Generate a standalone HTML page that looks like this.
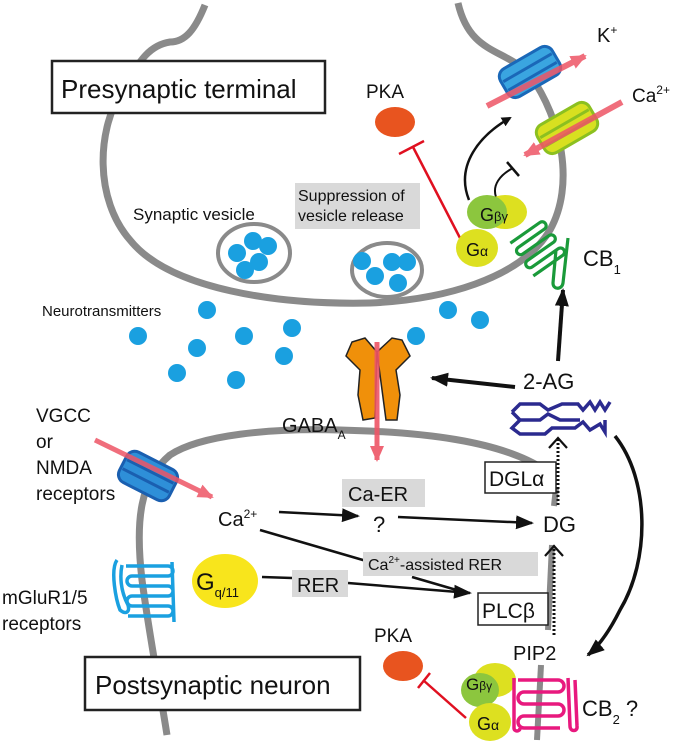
<!DOCTYPE html>
<html><head><meta charset="utf-8"><style>
html,body{margin:0;padding:0;background:#fff;}
svg{display:block;font-family:"Liberation Sans",Arial,sans-serif;}
</style></head><body>
<svg width="675" height="744" viewBox="0 0 675 744" xmlns="http://www.w3.org/2000/svg">
<defs>
<marker id="ah" markerWidth="10" markerHeight="10" refX="8" refY="5" orient="auto" markerUnits="userSpaceOnUse"><path d="M0,0 L10,5 L0,10 z" fill="#111"/></marker>
<marker id="ahb" markerWidth="18" markerHeight="14" refX="16" refY="7" orient="auto" markerUnits="userSpaceOnUse"><path d="M0,0 L18,7 L0,14 z" fill="#111"/></marker>
<marker id="ahr" markerWidth="16" markerHeight="14" refX="14" refY="7" orient="auto" markerUnits="userSpaceOnUse"><path d="M0,0 L16,7 L0,14 z" fill="#ee5566"/></marker>
<marker id="ao" markerWidth="14" markerHeight="20" refX="11" refY="10" orient="auto" markerUnits="userSpaceOnUse"><path d="M1,1 L11,10 L1,19" fill="none" stroke="#111" stroke-width="2.2"/></marker>
</defs>

<!-- membranes -->
<path d="M205,5 C195,30 185,42 170,42 C150,45 140,60 125,85 C95,130 95,200 130,240 C170,290 280,305 370,303 C440,300 520,280 550,230 C575,185 562,120 530,75 C505,48 470,55 458,3" fill="none" stroke="#8a8a8a" stroke-width="7"/>
<path d="M167,735 C160,690 150,640 142,580 C135,520 140,480 170,455 C200,435 270,428 340,430 C420,432 500,440 545,470" fill="none" stroke="#8a8a8a" stroke-width="7"/>
<line x1="552" y1="545" x2="548" y2="630" stroke="#8a8a8a" stroke-width="6"/>
<line x1="541" y1="665" x2="537" y2="740" stroke="#8a8a8a" stroke-width="6"/>
<line x1="556" y1="488" x2="554" y2="506" stroke="#8a8a8a" stroke-width="6"/>

<!-- vesicles -->
<ellipse cx="254" cy="253" rx="36" ry="29" fill="none" stroke="#8a8a8a" stroke-width="4"/>
<ellipse cx="387" cy="270" rx="35" ry="27" fill="none" stroke="#8a8a8a" stroke-width="4"/>
<g fill="#1aa0e0">
<circle cx="253" cy="241" r="9"/><circle cx="268" cy="246" r="9"/><circle cx="237" cy="253" r="9"/><circle cx="259" cy="262" r="9"/><circle cx="245" cy="270" r="9"/>
<circle cx="362" cy="261" r="9"/><circle cx="392" cy="262" r="9"/><circle cx="407" cy="262" r="9"/><circle cx="375" cy="276" r="9"/><circle cx="398" cy="283" r="9"/>
<circle cx="207" cy="310" r="9"/><circle cx="138" cy="336" r="9"/><circle cx="197" cy="348" r="9"/><circle cx="244" cy="336" r="9"/><circle cx="292" cy="328" r="9"/><circle cx="177" cy="373" r="9"/><circle cx="236" cy="380" r="9"/><circle cx="284" cy="356" r="9"/><circle cx="448" cy="310" r="9"/><circle cx="480" cy="320" r="9"/><circle cx="416" cy="336" r="9"/>
</g>

<!-- labels top -->
<rect x="52" y="61" width="273" height="52" fill="#fff" stroke="#222" stroke-width="2.5"/>
<text x="61" y="98" font-size="26" fill="#111">Presynaptic terminal</text>
<text x="366" y="98" font-size="19" fill="#111">PKA</text>
<ellipse cx="395" cy="122" rx="20" ry="15" fill="#e8541f"/>
<line x1="460" y1="238" x2="413" y2="147" stroke="#e01020" stroke-width="2.5"/>
<line x1="399" y1="154" x2="424" y2="141" stroke="#e01020" stroke-width="2.5"/>
<rect x="295" y="183" width="125" height="46" fill="#d9d9d9"/>
<text x="298" y="201" font-size="16" fill="#111">Suppression of</text>
<text x="298" y="221" font-size="16" fill="#111">vesicle release</text>
<text x="133" y="220" font-size="17" fill="#111">Synaptic vesicle</text>
<text x="42" y="316" font-size="15" fill="#111">Neurotransmitters</text>

<!-- K+ channel -->
<g transform="translate(530,72) rotate(-30)">
<rect x="-30" y="-16" width="60" height="32" rx="9" fill="#3aa5e0" stroke="#1a68b8" stroke-width="3"/>
<line x1="-28" y1="-5" x2="28" y2="-5" stroke="#1a68b8" stroke-width="3"/>
<line x1="-28" y1="5" x2="28" y2="5" stroke="#1a68b8" stroke-width="3"/>
</g>
<line x1="487" y1="106" x2="585" y2="56" stroke="#ee5566" stroke-width="6" opacity="0.85" marker-end="url(#ahr)"/>
<!-- Ca channel -->
<g transform="translate(567,128) rotate(-30)">
<rect x="-30" y="-16" width="60" height="32" rx="9" fill="#d8e020" stroke="#8cc020" stroke-width="3"/>
<line x1="-28" y1="-5" x2="28" y2="-5" stroke="#8cc020" stroke-width="3"/>
<line x1="-28" y1="5" x2="28" y2="5" stroke="#8cc020" stroke-width="3"/>
</g>
<line x1="622" y1="102" x2="525" y2="155" stroke="#ee5566" stroke-width="6" opacity="0.85" marker-end="url(#ahr)"/>
<text x="597" y="42" font-size="20" fill="#111">K<tspan font-size="12" dy="-8">+</tspan></text>
<text x="632" y="102" font-size="19" fill="#111">Ca<tspan font-size="12" dy="-8">2+</tspan></text>

<!-- G proteins top -->
<path d="M469,200 C455,165 480,135 510,118" fill="none" stroke="#111" stroke-width="2.5" marker-end="url(#ah)"/>
<path d="M496,197 C492,185 500,175 513,168" fill="none" stroke="#111" stroke-width="2"/>
<line x1="507" y1="162" x2="519" y2="176" stroke="#111" stroke-width="2.5"/>
<ellipse cx="505" cy="212" rx="22" ry="17" fill="#dde020"/>
<ellipse cx="487" cy="212" rx="20" ry="17" fill="#8cc63e"/>
<text x="480" y="221" font-size="18" fill="#111">G<tspan font-size="13">βγ</tspan></text>
<ellipse cx="477" cy="248" rx="21" ry="19" fill="#dde020"/>
<text x="466" y="256" font-size="18" fill="#111">G<tspan font-size="14">α</tspan></text>
<!-- CB1 -->
<g transform="translate(512,242) rotate(-35)" fill="none" stroke="#1a9a3a" stroke-width="3.2">
<path d="M-2,0 h36 a4,4 0 0 1 0,8 h-32 a4,4 0 0 0 0,8 h32 a4,4 0 0 1 0,8 h-32 a4,4 0 0 0 0,8 h32 a4,4 0 0 1 0,8 h-36"/>
</g>
<path d="M556,250 L553,283 C553,290 562,290 563,283 L568,238" fill="none" stroke="#1a9a3a" stroke-width="3.2"/>
<text x="583" y="266" font-size="22" fill="#111">CB<tspan font-size="13" dy="8">1</tspan></text>

<!-- GABA_A -->
<path d="M352,342 L346,356 L360,370 L358,395 L363,420 L375,418 L377,352 L386,420 L397,420 L400,395 L396,370 L410,356 L402,340 L392,338 L377,352 L365,338 Z" fill="#f0900a" stroke="#222" stroke-width="1.5"/>
<line x1="377" y1="342" x2="377" y2="460" stroke="#ee5566" stroke-width="5" marker-end="url(#ahr)" opacity="0.9"/>
<text x="282" y="432" font-size="20" fill="#111">GABA<tspan font-size="12" dy="7">A</tspan></text>

<!-- 2-AG -->
<text x="523" y="389" font-size="22" fill="#111">2-AG</text>
<line x1="515" y1="387" x2="432" y2="378" stroke="#111" stroke-width="4" marker-end="url(#ahb)"/>
<line x1="558" y1="361" x2="563" y2="290" stroke="#111" stroke-width="4" marker-end="url(#ahb)"/>
<path d="M512,412 L520,404 L540,404 L548,410 L562,404 L578,404 L583,410 L590,402 L595,410 L600,402 L605,410 L610,402 M512,412 L520,420 L540,420 L548,414 L560,420 L580,420 M520,420 L512,428 L520,434 L545,434 L552,428 L575,428 L583,422 L590,430 L600,424 L605,432 L605,420" fill="none" stroke="#2b2a8f" stroke-width="3.5"/>
<path d="M615,436 C650,480 650,560 620,610 C610,630 600,645 588,655" fill="none" stroke="#111" stroke-width="3.5" marker-end="url(#ahb)"/>

<!-- dotted arrows -->
<line x1="558" y1="505" x2="558" y2="438" stroke="#111" stroke-width="3" stroke-dasharray="2,2" marker-end="url(#ao)"/>
<line x1="554" y1="635" x2="554" y2="546" stroke="#111" stroke-width="3" stroke-dasharray="2,2" marker-end="url(#ao)"/>

<!-- postsynaptic left -->
<g transform="translate(148,476) rotate(27)">
<rect x="-28" y="-17" width="56" height="34" rx="9" fill="#2e8fd8" stroke="#1a5fb0" stroke-width="3"/>
<line x1="-26" y1="-5" x2="26" y2="-5" stroke="#1a5fb0" stroke-width="3"/>
<line x1="-26" y1="5" x2="26" y2="5" stroke="#1a5fb0" stroke-width="3"/>
</g>
<line x1="95" y1="440" x2="212" y2="497" stroke="#ee5566" stroke-width="5" opacity="0.85" marker-end="url(#ahr)"/>
<g font-size="19" fill="#111">
<text x="36" y="422">VGCC</text><text x="36" y="448">or</text><text x="36" y="474">NMDA</text><text x="36" y="500">receptors</text>
<text x="2" y="604">mGluR1/5</text><text x="2" y="630">receptors</text>
</g>
<path d="M117,560 C110,570 116,600 120,610 C126,615 130,612 128,605 C120,590 120,575 122,565" fill="none" stroke="#1aa0e0" stroke-width="3.5"/>
<path d="M126,566 h42 a5,5 0 0 1 0,10 h-36 a5,5 0 0 0 0,10 h36 a5,5 0 0 1 0,10 h-36 a5,5 0 0 0 0,10 h36 a5,5 0 0 1 0,10 h-40 M172,562 L174,622" fill="none" stroke="#1aa0e0" stroke-width="3.5"/>
<ellipse cx="225" cy="581" rx="33" ry="27" fill="#f8e51c"/>
<text x="196" y="590" font-size="24" fill="#111">G<tspan font-size="13" dy="7">q/11</tspan></text>

<!-- pathways -->
<text x="218" y="526" font-size="20" fill="#111">Ca<tspan font-size="12" dy="-8">2+</tspan></text>
<line x1="279" y1="512" x2="358" y2="516" stroke="#111" stroke-width="2.5" marker-end="url(#ahb)"/>
<rect x="342" y="479" width="83" height="28" fill="#d9d9d9"/>
<text x="348" y="501" font-size="20" fill="#111">Ca-ER</text>
<text x="373" y="532" font-size="22" fill="#111">?</text>
<line x1="398" y1="517" x2="532" y2="523" stroke="#111" stroke-width="2.5" marker-end="url(#ahb)"/>
<text x="543" y="532" font-size="22" fill="#111">DG</text>
<rect x="485" y="462" width="71" height="31" fill="#fff" stroke="#222" stroke-width="1.5"/>
<text x="489" y="486" font-size="21" fill="#111">DGLα</text>
<path d="M260,530 L380,565" stroke="#111" stroke-width="2.5"/>
<path d="M262,577 L292,578 M348,583 L470,593" stroke="#111" stroke-width="2.5" marker-end="url(#ahb)"/>
<line x1="412" y1="577" x2="460" y2="591" stroke="#111" stroke-width="2.5"/>
<rect x="363" y="552" width="175" height="24" fill="#d9d9d9"/>
<text x="368" y="570" font-size="16" fill="#111">Ca<tspan font-size="10" dy="-7">2+</tspan><tspan dy="7">-assisted RER</tspan></text>
<rect x="292" y="570" width="56" height="27" fill="#d9d9d9"/>
<text x="297" y="592" font-size="20" fill="#111">RER</text>
<rect x="478" y="593" width="70" height="32" fill="#fff" stroke="#222" stroke-width="1.5"/>
<text x="482" y="618" font-size="21" fill="#111">PLCβ</text>
<text x="513" y="660" font-size="20" fill="#111">PIP2</text>

<!-- bottom -->
<rect x="85" y="657" width="275" height="53" fill="#fff" stroke="#222" stroke-width="2.5"/>
<text x="95" y="694" font-size="26" fill="#111">Postsynaptic neuron</text>
<text x="374" y="642" font-size="19" fill="#111">PKA</text>
<ellipse cx="403" cy="666" rx="20" ry="15" fill="#e8541f"/>
<line x1="466" y1="718" x2="423" y2="680" stroke="#e01020" stroke-width="2.5"/>
<line x1="418" y1="688" x2="430" y2="673" stroke="#e01020" stroke-width="2.5"/>
<ellipse cx="495" cy="680" rx="21" ry="17" fill="#dde020"/>
<ellipse cx="480" cy="690" rx="19" ry="17" fill="#8cc63e"/>
<text x="466" y="690" font-size="17" fill="#111">G<tspan font-size="12">βγ</tspan></text>
<ellipse cx="490" cy="722" rx="21" ry="19" fill="#dde020"/>
<text x="477" y="730" font-size="18" fill="#111">G<tspan font-size="14">α</tspan></text>
<path d="M518,680 h40 a6,6 0 0 1 0,12 h-34 a6,6 0 0 0 0,12 h34 a6,6 0 0 1 0,12 h-34 a6,6 0 0 0 0,12 h36 M514,678 L514,728 C514,732 520,732 520,728 M568,678 L570,726 C570,732 578,732 577,726 L575,680" fill="none" stroke="#e8197e" stroke-width="3.5"/>
<text x="582" y="716" font-size="22" fill="#111">CB<tspan font-size="13" dy="8">2</tspan><tspan dy="-8"> ?</tspan></text>
</svg>
</body></html>
